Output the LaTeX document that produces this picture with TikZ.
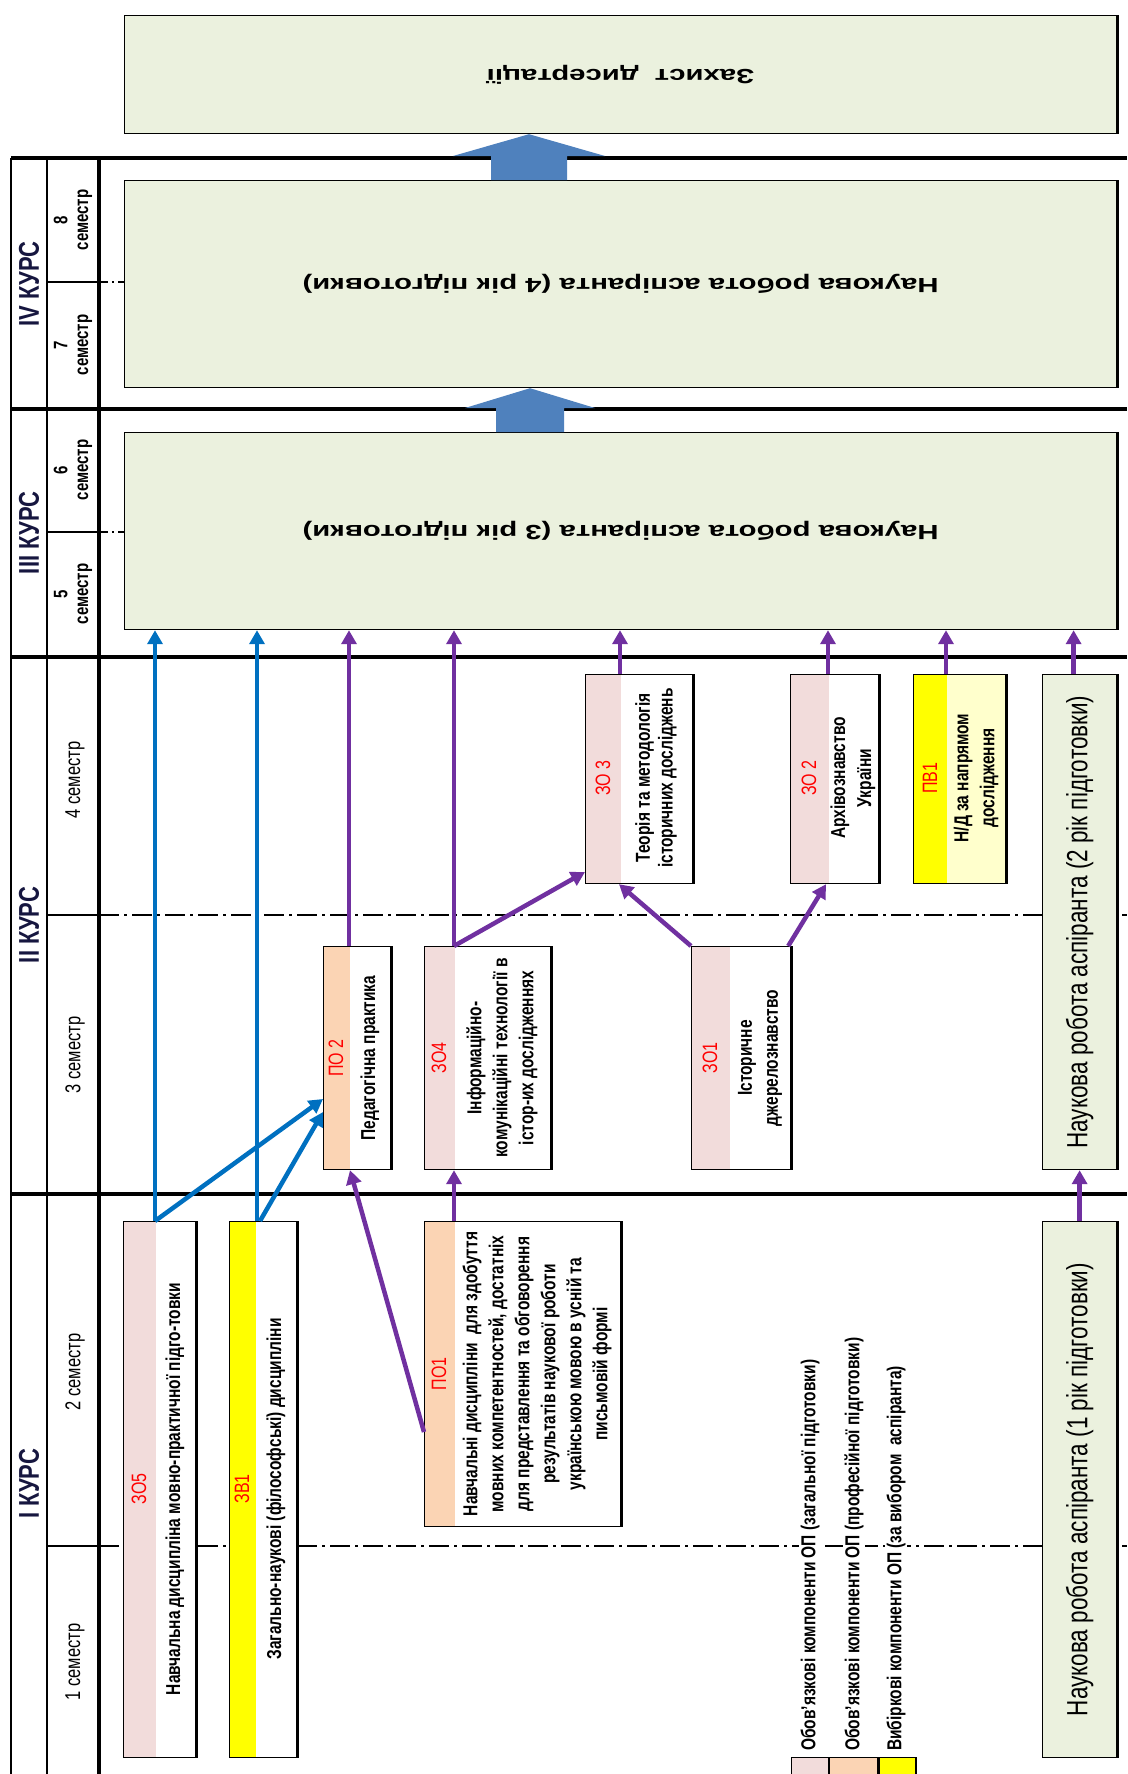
\documentclass[tikz,border=0pt]{standalone}
\usepackage{fontspec}
\setmainfont{Liberation Sans}
\usepackage{tikz}
\usetikzlibrary{calc,arrows.meta}
\definecolor{uasynij}{HTML}{0070C0}
\definecolor{uafiolet}{HTML}{7030A0}
\definecolor{uarozh}{HTML}{F2DCDB}
\definecolor{uapersyk}{HTML}{FBD4B4}
\definecolor{uazhovt}{HTML}{FFFF00}
\definecolor{uazhovtyj}{HTML}{FFFFCC}
\definecolor{uazelen}{HTML}{EBF1DE}
\definecolor{uastrilka}{HTML}{4F81BD}
\definecolor{uachervon}{HTML}{FF0000}
\definecolor{uakurs}{HTML}{16163F}
\def\kolkod{uachervon}
\def\kolkurs{uakurs}
\def\kolfon{uazelen}

\begin{document}
\begin{tikzpicture}[x=1pt,y=-1pt,
	pole/.style={draw=black,line width=1.2pt,fill=white,inner sep=0pt,anchor=north west},
	rozmir/.style 2 args={minimum width=#1pt,minimum height=#2pt},
	smuga/.style 2 args={path picture={\fill[#1] (path picture bounding box.north west) rectangle ([xshift=#2pt]path picture bounding box.south west);}},
	zelen/.style={pole,fill=\kolfon},
	vnapys/.style={rotate=90,yscale=1.3,inner sep=1pt,align=center},
	napys/.style={vnapys,font=\fontsize{15.5}{20}\selectfont\bfseries},
	kod/.style={vnapys,text=\kolkod,font=\fontsize{16}{18}\selectfont},
	perevern/.style={rotate=180,xscale=1.43,inner sep=0pt,font=\fontsize{20.5}{24}\selectfont\bfseries},
	robota/.style={vnapys,font=\fontsize{22.5}{26}\selectfont},
	kurs/.style={vnapys,text=\kolkurs,font=\fontsize{22}{26}\selectfont\bfseries},
	semestr/.style={vnapys,font=\fontsize{16.5}{20}\selectfont},
	semestrb/.style={vnapys,font=\fontsize{15}{16}\selectfont\bfseries},
	legenda/.style={napys,anchor=west,fill=white},
	ramka/.style={line width=3.5pt},
	tonka/.style={line width=1.4pt},
	tochka/.style={line width=1.3pt,dash pattern=on 20pt off 5pt on 3pt off 5pt},
	strsyn/.style={draw=uasynij,line width=4.5pt,-{Triangle[length=14pt,width=15pt]}},
	strfiol/.style={draw=uafiolet,line width=4.5pt,-{Triangle[length=14pt,width=15pt]}},
	strvel/.style={fill=uastrilka}]
	\useasboundingbox (0,0) rectangle (1127,1774);
	% kursy i semestry
	\foreach \y in {158,409,657,1194}
	\draw[ramka] (11,\y) -- (1127,\y);
	\draw[tonka] (11,158) -- (11,1774) (47,158) -- (47,1774);
	\draw[ramka] (99,158) -- (99,1774);
	\foreach \y in {282,532}{
		\draw[tonka] (47,\y) -- (99,\y);
		\draw[line width=1.2pt,dash pattern=on 9pt off 4pt on 2pt off 4pt] (99,\y) -- (124,\y);}
	\foreach \y in {915,1546}{
		\draw[tonka] (47,\y) -- (99,\y);
		\draw[tochka] (99,\y) -- (1127,\y);}
	\node[kurs] (k4) at (29,284) {IV КУРС};
	\node[kurs] (k3) at (29,533) {III КУРС};
	\node[kurs] (k2) at (29,925) {II КУРС};
	\node[kurs] (k1) at (29,1484) {I КУРС};
	\node[semestrb] (s8) at (73,220) {8\\семестр};
	\node[semestrb] (s7) at (73,345) {7\\семестр};
	\node[semestrb] (s6) at (73,470) {6\\семестр};
	\node[semestrb] (s5) at (73,594) {5\\семестр};
	\node[semestr] (s4) at (75,780) {4 семестр};
	\node[semestr] (s3) at (75,1055) {3 семестр};
	\node[semestr] (s2) at (75,1372) {2 семестр};
	\node[semestr] (s1) at (75,1662) {1 семестр};
	% bloky
	\node[zelen,rozmir={992}{118}] (zakhyst) at (124,15) {};
	\node[zelen,rozmir={992}{207}] (y4) at (124,180) {};
	\node[zelen,rozmir={992}{197}] (y3) at (124,432) {};
	\node[pole,rozmir={67}{223},smuga={uapersyk}{26}] (po2) at (323,946) {};
	\node[pole,rozmir={126}{223},smuga={uarozh}{30}] (zo4) at (424,946) {};
	\node[pole,rozmir={99}{223},smuga={uarozh}{38}] (zo1) at (691,946) {};
	\node[pole,rozmir={107}{209},smuga={uarozh}{35}] (zo3) at (585,674) {};
	\node[pole,rozmir={88}{209},smuga={uarozh}{38}] (zo2) at (790,674) {};
	\node[pole,fill=uazhovtyj,rozmir={92}{209},smuga={uazhovt}{33}] (pv1) at (913,674) {};
	\node[zelen,rozmir={74}{495}] (nr2) at (1042,674) {};
	\node[pole,rozmir={72}{536},smuga={uarozh}{32}] (zo5) at (123,1221) {};
	\node[pole,rozmir={67}{536},smuga={uazhovt}{26}] (zv1) at (229,1221) {};
	\node[pole,rozmir={196}{305},smuga={uapersyk}{30}] (po1) at (424,1221) {};
	\node[zelen,rozmir={74}{536}] (nr1) at (1042,1221) {};
	\node[pole,rozmir={37}{18},fill=uarozh] (l1) at (791,1757) {};
	\node[pole,rozmir={48}{18},fill=uapersyk] (l2) at (l1.north east) {};
	\node[pole,rozmir={37}{18},fill=uazhovt] (l3) at (l2.north east) {};
	\foreach \n in {zakhyst,y4,y3,po2,zo4,zo1,zo3,zo2,pv1,nr2,zo5,zv1,po1,nr1}
	\draw[line width=2.6pt] (\n.north east) -- (\n.south east);
	% strilky
	\path ($(y3.north west)+(406,0)$) coordinate (a1) ($(y4.north west)+(405,0)$) coordinate (a2);
	\fill[strvel] (a1) ++(-34,0) -- ++(0,-24) -- ++(-31,0) -- (a1 |- y4.south) -- ($(a1)+(65,-24)$) -- ++(-31,0) -- ++(0,24) -- cycle;
	\fill[strvel] (a2) ++(-38,0) -- ++(0,-24) -- ++(-38,0) -- (a2 |- zakhyst.south) -- ($(a2)+(76,-24)$) -- ++(-38,0) -- ++(0,24) -- cycle;
	\draw[strsyn] ($(zo5.north west)+(32,0)$) coordinate (b1) -- (b1 |- y3.south);
	\draw[strsyn] ($(zv1.north west)+(28,0)$) coordinate (b2) -- (b2 |- y3.south);
	\draw[strsyn] (b1) -- ($(po2.north west)+(0,153)$);
	\draw[strsyn] ($(zv1.north west)+(31,0)$) -- ($(po2.north west)+(0,166)$);
	\draw[strfiol] ($(po2.north west)+(26,0)$) coordinate (f1) -- (f1 |- y3.south);
	\draw[strfiol] ($(zo4.north west)+(30,0)$) coordinate (f2) -- (f2 |- y3.south);
	\draw[strfiol] (f2) -- ($(zo3.north west)+(0,198)$);
	\draw[strfiol] ($(zo3.north west)+(35,0)$) coordinate (f3) -- (f3 |- y3.south);
	\draw[strfiol] ($(zo2.north west)+(38,0)$) coordinate (f4) -- (f4 |- y3.south);
	\draw[strfiol] ($(pv1.north west)+(33,0)$) coordinate (f5) -- (f5 |- y3.south);
	\draw[strfiol] ($(nr2.north)+(-6,0)$) coordinate (f6) -- (f6 |- y3.south);
	\draw[strfiol] (zo1.north west) -- ($(zo3.south west)+(34,0)$);
	\draw[strfiol] ($(zo1.north east)+(-3,0)$) -- ($(zo2.south west)+(36,0)$);
	\draw[strfiol] ($(po1.north west)+(30,0)$) -- ($(zo4.south west)+(30,0)$);
	\draw[strfiol] ($(po1.north west)+(0,211)$) -- ($(po2.south west)+(27,0)$);
	\draw[strfiol] (nr1.north) -- (nr2.south);
	% napysy
	\node[perevern] (tzakhyst) at (zakhyst.center) {Захист\ \ дисертації};
	\node[perevern] (ty4) at (y4.center) {Наукова робота аспіранта (4 рік підготовки)};
	\node[perevern] (ty3) at (y3.center) {Наукова робота аспіранта (3 рік підготовки)};
	\node[robota] (tnr2) at (nr2.center) {Наукова робота аспіранта (2 рік підготовки)};
	\node[robota] (tnr1) at (nr1.center) {Наукова робота аспіранта (1 рік підготовки)};
	\node[kod] (kzo5) at (139,1489) {ЗО5};
	\node[napys] (tzo5) at (175,1489) {Навчальна дисципліна мовно-практичної підго-товки};
	\node[kod] (kzv1) at (242,1489) {ЗВ1};
	\node[napys] (tzv1) at (276,1489) {Загально-наукові (філософські) дисципліни};
	\node[kod] (kpo1) at (439,1374) {ПО1};
	\node[napys] (tpo1) at (537,1374) {Навчальні дисципліни\ \ для здобуття\\мовних компетентностей, достатніх\\для представлення та обговорення\\результатів наукової роботи\\українською мовою в усній та\\письмовій формі};
	\node[kod] (kpo2) at (336,1058) {ПО 2};
	\node[napys] (tpo2) at (370,1058) {Педагогічна практика};
	\node[kod] (kzo4) at (439,1058) {ЗО4};
	\node[napys] (tzo4) at (502,1058) {Інформаційно-\\комунікаційні технології в\\істор-их дослідженнях};
	\node[kod] (kzo1) at (710,1058) {ЗО1};
	\node[napys] (tzo1) at (760,1058) {Історичне\\джерелознавство};
	\node[kod] (kzo3) at (603,778) {ЗО 3};
	\node[napys,font=\fontsize{15.5}{17.5}\selectfont\bfseries] (tzo3) at (656,778) {Теорія та методологія\\історичних досліджень};
	\node[kod] (kzo2) at (809,778) {ЗО 2};
	\node[napys] (tzo2) at (853,778) {Архівознавство\\України};
	\node[kod] (kpv1) at (930,778) {ПВ1};
	\node[napys] (tpv1) at (976,778) {Н/Д за напрямом\\дослідження};
	\node[legenda] (tl1) at (810,1752) {Обов'язкові компоненти ОП (загальної підготовки)};
	\node[legenda] (tl2) at (854,1752) {Обов'язкові компоненти ОП (професійної підготовки)};
	\node[legenda] (tl3) at (896,1752) {Вибіркові компоненти ОП (за вибором\ \ аспіранта)};
\end{tikzpicture}
\end{document}
